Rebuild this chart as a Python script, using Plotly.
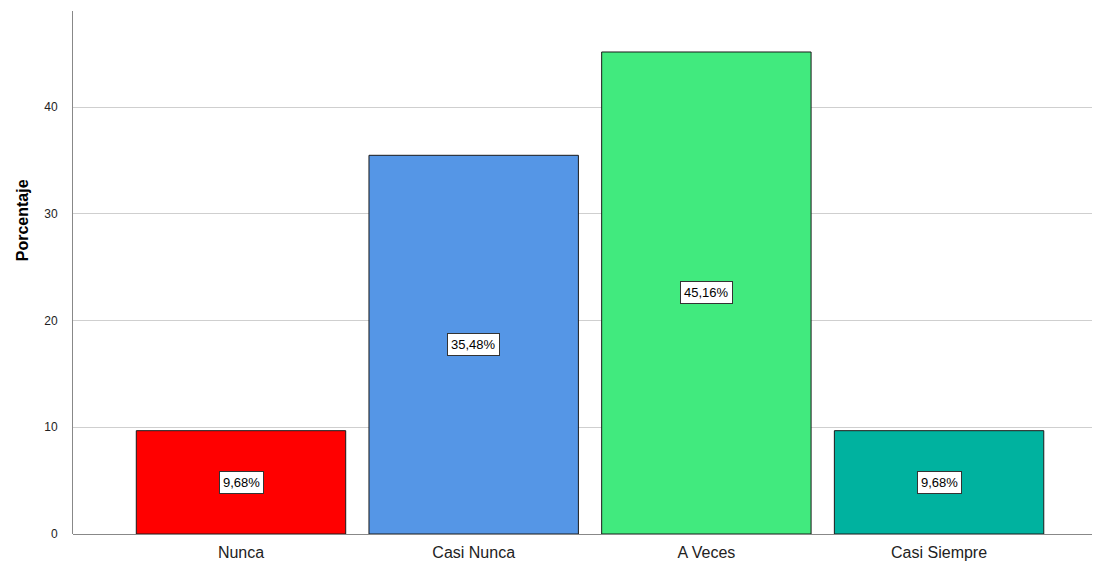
import plotly.graph_objects as go

categories = ["Nunca", "Casi Nunca", "A Veces", "Casi Siempre"]
values = [9.68, 35.48, 45.16, 9.68]
labels = ["9,68%", "35,48%", "45,16%", "9,68%"]
colors = ["#FF0000", "#5596E6", "#41EA7E", "#00B29F"]
y_ticks = [0, 10, 20, 30, 40]

FONT = "Liberation Sans, Arial"

fig = go.Figure()
fig.add_trace(go.Bar(
    x=list(range(len(categories))), y=values,
    marker=dict(color=colors, line=dict(color="#1a1a1a", width=1)),
    hoverinfo="skip", showlegend=False,
))

for i, (v, lab) in enumerate(zip(values, labels)):
    fig.add_annotation(x=i, y=v / 2, text=lab, showarrow=False,
                       bgcolor="white", bordercolor="#333333", borderwidth=1,
                       borderpad=3,
                       font=dict(family=FONT, size=13, color="black"))

# y-axis title placed like the reference (higher than plot centre)
fig.add_annotation(x=0, xref="paper", y=0.60, yref="paper", text="<b>Porcentaje</b>",
                   textangle=-90, showarrow=False, xanchor="center", yanchor="middle",
                   xshift=-51, font=dict(family=FONT, size=16, color="black"))

fig.update_layout(
    width=1100, height=568,
    margin=dict(l=65, r=0, t=3, b=42),
    plot_bgcolor="white", paper_bgcolor="white",
    bargap=0.1,
    font=dict(family=FONT, color="#222222"),
    xaxis=dict(
        range=[-0.722, 3.726],
        tickvals=list(range(len(categories))), ticktext=categories,
        tickfont=dict(size=16, color="#222222"),
        ticklabelstandoff=7,
        showgrid=False, showline=False, zeroline=False, ticks="",
    ),
    yaxis=dict(
        range=[0, 49],
        tickvals=y_ticks,
        tickfont=dict(size=12, color="#222222"),
        ticklabelstandoff=12,
        showgrid=True, gridcolor="#CFCFCF", gridwidth=1,
        showline=True, linecolor="#888888", linewidth=1,
        zeroline=True, zerolinecolor="#888888", zerolinewidth=1,
        ticks="", ticklen=0,
    ),
)

fig.write_html("out.html")
